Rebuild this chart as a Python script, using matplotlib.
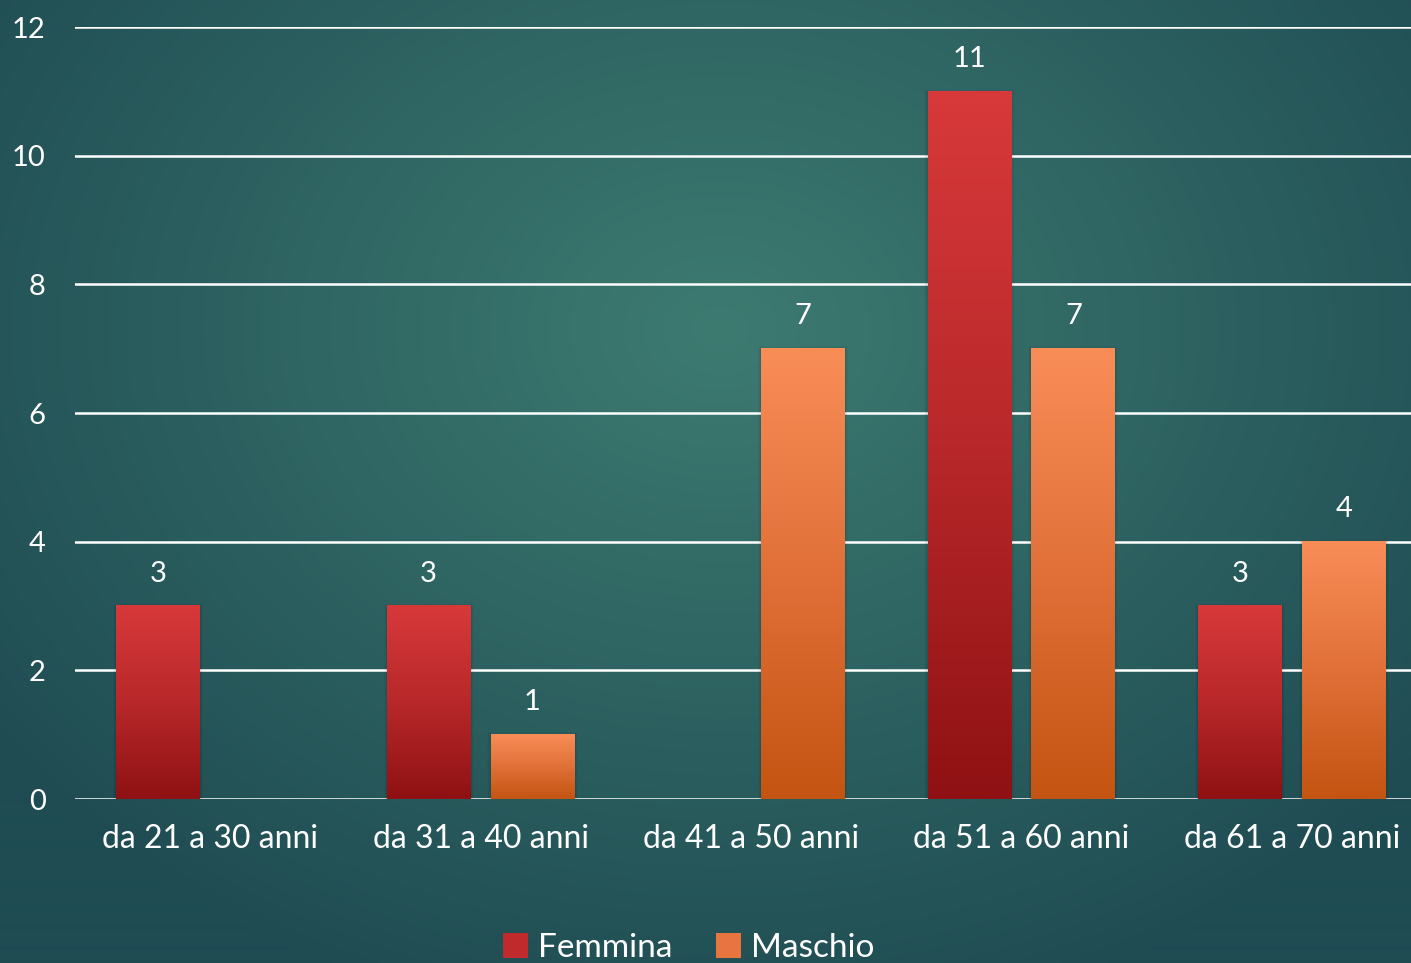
import numpy as np
import matplotlib
matplotlib.use("Agg")
import matplotlib.pyplot as plt
from matplotlib.colors import LinearSegmentedColormap
from matplotlib.patches import Patch, Rectangle

categories = ["da 21 a 30 anni", "da 31 a 40 anni", "da 41 a 50 anni",
              "da 51 a 60 anni", "da 61 a 70 anni"]
femmina = [3, 3, 0, 11, 3]
maschio = [0, 1, 7, 7, 4]
yticks = [0, 2, 4, 6, 8, 10, 12]

W, H = 1411, 963
fig = plt.figure(figsize=(W / 100, H / 100), dpi=100)

# teal radial background
bg = fig.add_axes([0, 0, 1, 1])
bg.set_axis_off()
yy, xx = np.mgrid[0:H, 0:W]
r = np.sqrt(((xx - 720) / 900.0) ** 2 + ((yy - 330) / 700.0) ** 2)
r = np.clip(r, 0, 1)
inner = np.array([0x3d, 0x7b, 0x71]) / 255
outer = np.array([0x1f, 0x4c, 0x53]) / 255
img = inner[None, None, :] * (1 - r[..., None]) + outer[None, None, :] * r[..., None]
bg.imshow(img, extent=[0, 1, 0, 1], aspect="auto", origin="upper")
bg.set_xlim(0, 1)
bg.set_ylim(0, 1)

font = "Lato"
ax = fig.add_axes([75 / W, (H - 799) / H, 1352 / W, (799 - 27) / H])
ax.set_facecolor("none")
ax.set_xlim(-0.5, 4.5)
ax.set_ylim(0, 12)
for s in ax.spines.values():
    s.set_visible(False)
ax.set_yticks(yticks)
ax.set_yticklabels([str(t) for t in yticks], color="white", fontsize=21,
                   family=font)
ax.yaxis.grid(True, color="white", lw=1.8)
ax.set_axisbelow(True)
ax.tick_params(axis="both", length=0)
ax.tick_params(axis="y", pad=21)
ax.set_xticks(range(len(categories)))
ax.set_xticklabels(categories, color="white", fontsize=23, family=font)
ax.tick_params(axis="x", pad=18)

red_cmap = LinearSegmentedColormap.from_list("r", ["#8f1113", "#b8282a", "#d8393a"])
org_cmap = LinearSegmentedColormap.from_list("o", ["#c35411", "#e07038", "#f98d58"])

grad = np.linspace(0, 1, 256).reshape(-1, 1)
bw = 0.31
off = 0.192
x = np.arange(len(categories))


def gradient_bars(xpos, vals, cmap):
    bars = ax.bar(xpos, vals, width=bw, facecolor="none", edgecolor="none",
                  zorder=3)
    for b, v in zip(bars, vals):
        if v <= 0:
            continue
        x0, y0 = b.get_x(), b.get_y()
        w, h = b.get_width(), b.get_height()
        # soft shadow on the sides
        for k, a in enumerate([0.06, 0.04, 0.02]):
            d = 0.004 * (k + 1)
            ax.add_patch(Rectangle((x0 - d, y0), w + 2 * d, h + d * 3,
                                   facecolor="black", alpha=a, lw=0, zorder=2.5))
        ax.imshow(grad, extent=[x0, x0 + w, y0, y0 + h], origin="lower",
                  cmap=cmap, aspect="auto", zorder=3)
        ax.text(x0 + w / 2, v + 0.3, str(v), ha="center", va="bottom",
                color="white", fontsize=21, family=font, zorder=4)


gradient_bars(x - off, femmina, red_cmap)
gradient_bars(x + off, maschio, org_cmap)
ax.set_xlim(-0.5, 4.5)
ax.set_ylim(0, 12)

handles = [Patch(facecolor="#c02a2c", label="Femmina"),
           Patch(facecolor="#e87540", label="Maschio")]
leg = fig.legend(handles=handles, loc="center", bbox_to_anchor=(689 / W, 15 / H),
                 ncol=2, frameon=False, handlelength=0.75,
                 handleheight=0.75, handletextpad=0.3, columnspacing=1.3,
                 prop={"family": font, "size": 24})
for t in leg.get_texts():
    t.set_color("white")

fig.savefig("out.png", dpi=100)
